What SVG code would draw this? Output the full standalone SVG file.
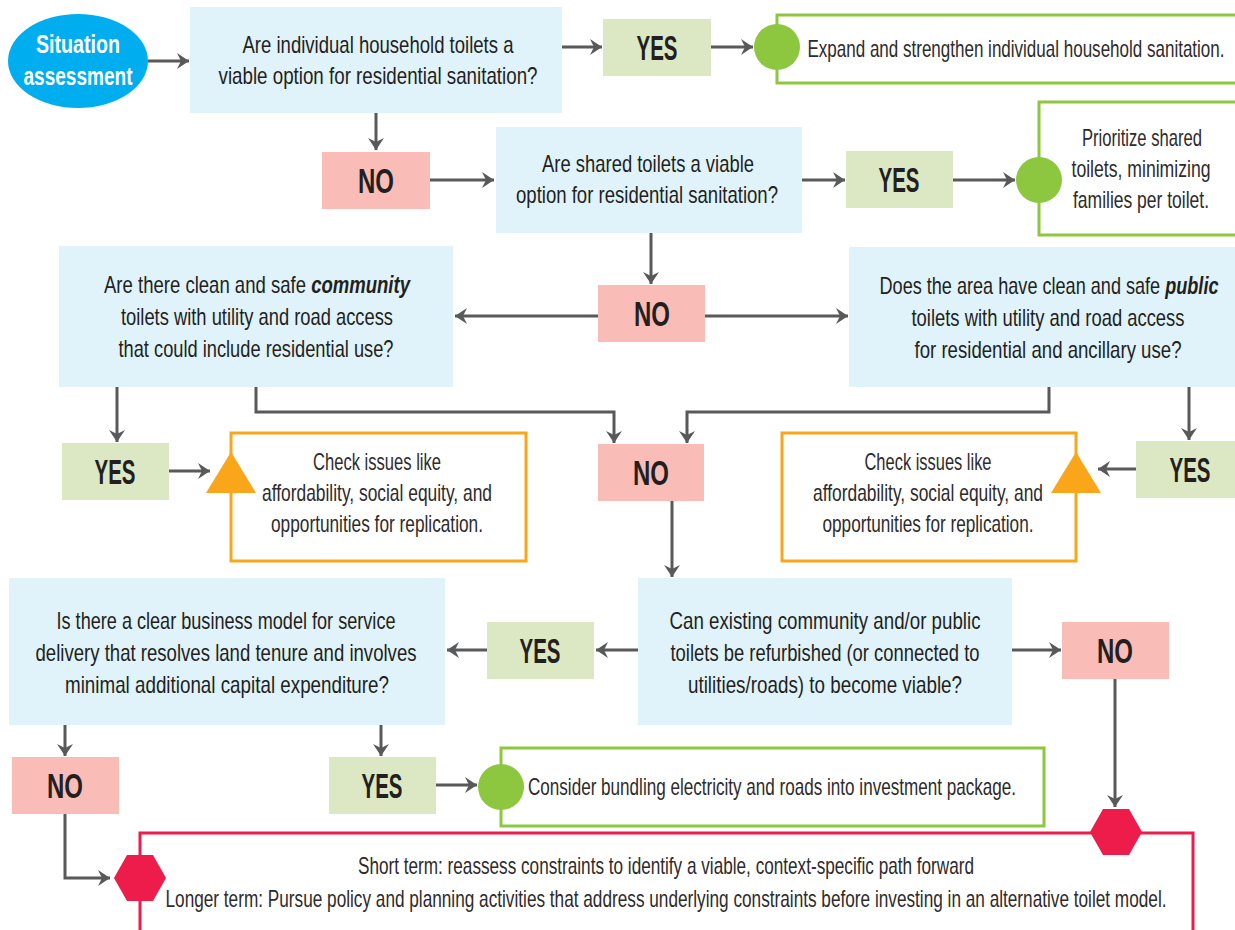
<svg xmlns="http://www.w3.org/2000/svg" width="1235" height="930" viewBox="0 0 1235 930">
  <defs>
    <marker id="arrow" markerUnits="userSpaceOnUse" markerWidth="14" markerHeight="18" refX="12" refY="8" orient="auto" overflow="visible">
      <path d="M0,0 L12,8 L0,16 L4,8 Z" fill="#58595B"/>
    </marker>
    <style>
      .q { fill: #E0F3FA; }
      .yes { fill: #DBE8C3; }
      .no { fill: #F9BCB6; }
      .green { fill: none; stroke: #8DC63F; stroke-width: 3; }
      .orange { fill: none; stroke: #F9A61A; stroke-width: 3; }
      .red { fill: none; stroke: #EE1C4A; stroke-width: 3; }
      .dot { fill: #8DC63F; }
      .tri { fill: #F9A61A; }
      .hex { fill: #EE1C4A; }
      text { font-family: "Liberation Sans Narrow", "Liberation Sans", Arial, sans-serif; text-anchor: middle; }
      .t { font-size: 24px; fill: #231F20; }
      .o { font-size: 24px; fill: #2E2B2C; }
      .lbl { font-size: 35px; font-weight: bold; fill: #231F20; }
      .bi { font-weight: bold; font-style: italic; }
      .start { font-size: 26px; font-weight: bold; fill: #FFFFFF; }
      .conn { fill: none; stroke: #58595B; stroke-width: 3; marker-end: url(#arrow); }
    </style>
  </defs>

  <!-- connectors -->
  <g id="connectors">
    <path class="conn" d="M148,61 H189"/>
    <path class="conn" d="M562,47 H602"/>
    <path class="conn" d="M711,47 H753"/>
    <path class="conn" d="M376,113 V150"/>
    <path class="conn" d="M430,180 H494"/>
    <path class="conn" d="M802,180 H845"/>
    <path class="conn" d="M953,180 H1015"/>
    <path class="conn" d="M651,233 V284"/>
    <path class="conn" d="M598,316 H455"/>
    <path class="conn" d="M705,316 H848"/>
    <path class="conn" d="M117,387 V442"/>
    <path class="conn" d="M169,471 H210"/>
    <path class="conn" d="M256,387 V412 H614 V443"/>
    <path class="conn" d="M1049,387 V412 H687 V443"/>
    <path class="conn" d="M1189,387 V440"/>
    <path class="conn" d="M1136,469 H1098"/>
    <path class="conn" d="M672,501 V577"/>
    <path class="conn" d="M638,650 H596"/>
    <path class="conn" d="M487,650 H447"/>
    <path class="conn" d="M1012,650 H1061"/>
    <path class="conn" d="M1115,679 V807"/>
    <path class="conn" d="M65,725 V756"/>
    <path class="conn" d="M381,725 V756"/>
    <path class="conn" d="M436,785 H477"/>
    <path class="conn" d="M65,814 V878 H110"/>
  </g>

  <!-- start -->
  <g id="situation">
    <ellipse cx="78" cy="61" rx="70" ry="47" fill="#00AEEF"/>
    <text class="start" x="78" y="53" textLength="84" lengthAdjust="spacingAndGlyphs">Situation</text>
    <text class="start" x="78" y="85" textLength="109" lengthAdjust="spacingAndGlyphs">assessment</text>
  </g>

  <!-- questions -->
  <g id="q-household">
    <rect class="q" x="190" y="7" width="372" height="106"/>
    <text class="t" x="378" y="53" textLength="271" lengthAdjust="spacingAndGlyphs">Are individual household toilets a</text>
    <text class="t" x="378" y="84" textLength="319" lengthAdjust="spacingAndGlyphs">viable option for residential sanitation?</text>
  </g>
  <g id="q-shared">
    <rect class="q" x="496" y="127" width="306" height="106"/>
    <text class="t" x="648" y="172" textLength="212" lengthAdjust="spacingAndGlyphs">Are shared toilets a viable</text>
    <text class="t" x="647" y="203" textLength="262" lengthAdjust="spacingAndGlyphs">option for residential sanitation?</text>
  </g>
  <g id="q-community">
    <rect class="q" x="59" y="246" width="394" height="141"/>
    <text class="t" x="257" y="293" textLength="306" lengthAdjust="spacingAndGlyphs">Are there clean and safe <tspan class="bi">community</tspan></text>
    <text class="t" x="257" y="325" textLength="272" lengthAdjust="spacingAndGlyphs">toilets with utility and road access</text>
    <text class="t" x="256" y="357" textLength="275" lengthAdjust="spacingAndGlyphs">that could include residential use?</text>
  </g>
  <g id="q-public">
    <rect class="q" x="849" y="247" width="386" height="140"/>
    <text class="t" x="1049" y="294" textLength="339" lengthAdjust="spacingAndGlyphs">Does the area have clean and safe <tspan class="bi">public</tspan></text>
    <text class="t" x="1048" y="326" textLength="273" lengthAdjust="spacingAndGlyphs">toilets with utility and road access</text>
    <text class="t" x="1048" y="358" textLength="267" lengthAdjust="spacingAndGlyphs">for residential and ancillary use?</text>
  </g>
  <g id="q-refurbish">
    <rect class="q" x="638" y="578" width="374" height="147"/>
    <text class="t" x="825" y="629" textLength="311" lengthAdjust="spacingAndGlyphs">Can existing community and/or public</text>
    <text class="t" x="825" y="661" textLength="309" lengthAdjust="spacingAndGlyphs">toilets be refurbished (or connected to</text>
    <text class="t" x="825" y="693" textLength="274" lengthAdjust="spacingAndGlyphs">utilities/roads) to become viable?</text>
  </g>
  <g id="q-business">
    <rect class="q" x="9" y="578" width="436" height="147"/>
    <text class="t" x="226" y="629" textLength="339" lengthAdjust="spacingAndGlyphs">Is there a clear business model for service</text>
    <text class="t" x="226" y="661" textLength="381" lengthAdjust="spacingAndGlyphs">delivery that resolves land tenure and involves</text>
    <text class="t" x="227" y="693" textLength="324" lengthAdjust="spacingAndGlyphs">minimal additional capital expenditure?</text>
  </g>

  <!-- yes / no labels -->
  <g id="yes-1"><rect class="yes" x="603" y="19" width="108" height="57"/><text class="lbl" x="657" y="60" textLength="41" lengthAdjust="spacingAndGlyphs">YES</text></g>
  <g id="no-1"><rect class="no" x="322" y="152" width="108" height="57"/><text class="lbl" x="376" y="193" textLength="36" lengthAdjust="spacingAndGlyphs">NO</text></g>
  <g id="yes-2"><rect class="yes" x="846" y="151" width="107" height="57"/><text class="lbl" x="899" y="192" textLength="41" lengthAdjust="spacingAndGlyphs">YES</text></g>
  <g id="no-2"><rect class="no" x="598" y="285" width="107" height="57"/><text class="lbl" x="652" y="326" textLength="36" lengthAdjust="spacingAndGlyphs">NO</text></g>
  <g id="yes-3"><rect class="yes" x="62" y="443" width="107" height="57"/><text class="lbl" x="115" y="484" textLength="41" lengthAdjust="spacingAndGlyphs">YES</text></g>
  <g id="no-3"><rect class="no" x="598" y="444" width="106" height="57"/><text class="lbl" x="651" y="485" textLength="36" lengthAdjust="spacingAndGlyphs">NO</text></g>
  <g id="yes-4"><rect class="yes" x="1136" y="441" width="99" height="57"/><text class="lbl" x="1190" y="482" textLength="41" lengthAdjust="spacingAndGlyphs">YES</text></g>
  <g id="yes-5"><rect class="yes" x="487" y="622" width="107" height="57"/><text class="lbl" x="540" y="663" textLength="41" lengthAdjust="spacingAndGlyphs">YES</text></g>
  <g id="no-5"><rect class="no" x="1062" y="622" width="107" height="57"/><text class="lbl" x="1115" y="663" textLength="36" lengthAdjust="spacingAndGlyphs">NO</text></g>
  <g id="no-6"><rect class="no" x="12" y="757" width="107" height="57"/><text class="lbl" x="65" y="798" textLength="36" lengthAdjust="spacingAndGlyphs">NO</text></g>
  <g id="yes-6"><rect class="yes" x="329" y="757" width="107" height="57"/><text class="lbl" x="382" y="798" textLength="41" lengthAdjust="spacingAndGlyphs">YES</text></g>

  <!-- outcomes -->
  <g id="out-household">
    <rect class="green" x="777" y="15" width="461" height="68"/>
    <circle class="dot" cx="777" cy="47" r="23"/>
    <text class="o" x="1016" y="57" textLength="417" lengthAdjust="spacingAndGlyphs">Expand and strengthen individual household sanitation.</text>
  </g>
  <g id="out-shared">
    <rect class="green" x="1039" y="102" width="199" height="133"/>
    <circle class="dot" cx="1039" cy="180" r="23"/>
    <text class="o" x="1142" y="146" textLength="120" lengthAdjust="spacingAndGlyphs">Prioritize shared</text>
    <text class="o" x="1141" y="177" textLength="139" lengthAdjust="spacingAndGlyphs">toilets, minimizing</text>
    <text class="o" x="1141" y="208" textLength="136" lengthAdjust="spacingAndGlyphs">families per toilet.</text>
  </g>
  <g id="check-community">
    <rect class="orange" x="231" y="433" width="295" height="128"/>
    <polygon class="tri" points="231,452 256,493 206,493"/>
    <text class="o" x="377" y="470" textLength="128" lengthAdjust="spacingAndGlyphs">Check issues like</text>
    <text class="o" x="377" y="501" textLength="230" lengthAdjust="spacingAndGlyphs">affordability, social equity, and</text>
    <text class="o" x="377" y="532" textLength="212" lengthAdjust="spacingAndGlyphs">opportunities for replication.</text>
  </g>
  <g id="check-public">
    <rect class="orange" x="782" y="433" width="294" height="128"/>
    <polygon class="tri" points="1076,452 1101,493 1051,493"/>
    <text class="o" x="928" y="470" textLength="127" lengthAdjust="spacingAndGlyphs">Check issues like</text>
    <text class="o" x="928" y="501" textLength="230" lengthAdjust="spacingAndGlyphs">affordability, social equity, and</text>
    <text class="o" x="928" y="532" textLength="211" lengthAdjust="spacingAndGlyphs">opportunities for replication.</text>
  </g>
  <g id="out-bundling">
    <rect class="green" x="501" y="748" width="543" height="78"/>
    <circle class="dot" cx="501" cy="787" r="23"/>
    <text class="o" x="772" y="795" textLength="488" lengthAdjust="spacingAndGlyphs">Consider bundling electricity and roads into investment package.</text>
  </g>
  <g id="out-reassess">
    <rect class="red" x="140" y="833" width="1053" height="110"/>
    <polygon class="hex" points="1090,832 1103,809 1129,809 1142,832 1129,855 1103,855"/>
    <polygon class="hex" points="114,878 127,855 153,855 166,878 153,901 127,901"/>
    <text class="o" x="666" y="874" textLength="616" lengthAdjust="spacingAndGlyphs">Short term: reassess constraints to identify a viable, context-specific path forward</text>
    <text class="o" x="666" y="907" textLength="1001" lengthAdjust="spacingAndGlyphs">Longer term: Pursue policy and planning activities that address underlying constraints before investing in an alternative toilet model.</text>
  </g>
</svg>
